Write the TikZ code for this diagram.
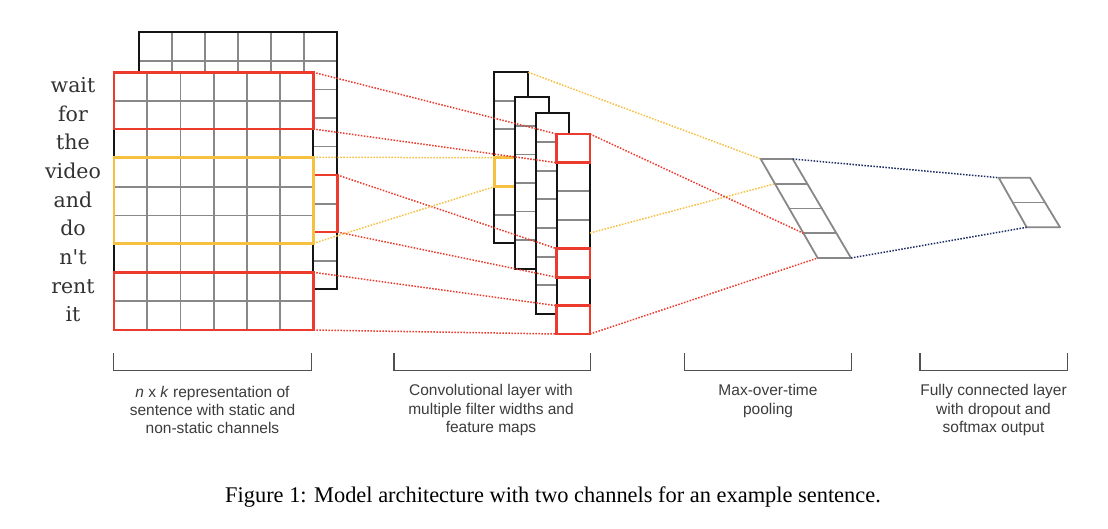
\documentclass[tikz,border=0pt]{standalone}
\usepackage{fontspec}
\setmainfont{Liberation Serif}
\newfontfamily\wordfont{DejaVu Serif}
\newfontfamily\labfont{Liberation Sans}
\definecolor{cred}{RGB}{236,58,44}
\definecolor{cyel}{RGB}{246,192,64}
\definecolor{cnavy}{RGB}{30,44,100}
\definecolor{cgrid}{RGB}{136,136,136}
\definecolor{cblk}{RGB}{20,20,20}
\definecolor{ctext}{RGB}{60,60,60}
\definecolor{cword}{RGB}{50,50,50}
\tikzset{
  gridln/.style={draw=cgrid, line width=1.8pt},
  blkln/.style={draw=cblk, line width=2pt},
  redbox/.style={draw=cred, line width=2.7pt},
  yelbox/.style={draw=cyel, line width=2.7pt},
  dotln/.style={line width=1.5pt, dash pattern=on 1.5pt off 1.5pt},
  reddot/.style={dotln, draw=cred},
  yeldot/.style={dotln, draw=cyel},
  navydot/.style={dotln, draw=cnavy},
  pool/.style={draw=cgrid, line width=1.8pt, line join=round},
  brk/.style={draw=ctext!90, line width=1.3pt},
  word/.style={font=\wordfont\fontsize{20.5}{24}\selectfont, text=cword, anchor=base, inner sep=0pt},
  lab/.style={font=\labfont\fontsize{15.5}{18.3}\selectfont, text=ctext, align=center, inner sep=0pt},
}
\begin{document}
\begin{tikzpicture}[x=1pt,y=-1pt]
\useasboundingbox (0,0) rectangle (1108,528);
\fill[white] (0,0) rectangle (1108,528);

% ---- back channel matrix
\begin{scope}[shift={(139,32.3)}]
  \fill[white] (0,0) rectangle (198.3,257);
  \foreach \i in {1,...,8} \draw[gridln] (0,{\i*28.56}) -- (198.3,{\i*28.56});
  \foreach \j in {1,...,5} \draw[gridln] ({\j*33.05},0) -- ({\j*33.05},257);
  \draw[blkln] (0,0) rectangle (198.3,257);
\end{scope}
\draw[redbox] (139,175) rectangle (337.3,232);

% ---- front channel matrix
\begin{scope}[shift={(114,72.3)}]
  \fill[white] (0,0) rectangle (199.3,257.7);
  \foreach \i in {1,...,8} \draw[gridln] (0,{\i*28.63}) -- (199.3,{\i*28.63});
  \foreach \j in {1,...,5} \draw[gridln] ({\j*33.22},0) -- ({\j*33.22},257.7);
  \draw[blkln] (0,0) rectangle (199.3,257.7);
\end{scope}
\draw[redbox] (114,72.3) rectangle (313.3,129);
\draw[yelbox] (114,157.3) rectangle (313.3,243.3);
\draw[redbox] (114,272.3) rectangle (313.3,330);

% ---- words
\foreach \w [count=\k] in {wait,for,the,video,and,do,n't,rent,it}
  \node[word] (w\k) at (73,{72.3+28.63*(\k-0.5)+6}) {\w};

% ---- feature maps
% map 1
\begin{scope}[shift={(494.3,72.3)}]
  \fill[white] (0,0) rectangle (34,171);
  \foreach \i in {1,...,5} \draw[gridln] (0,{\i*28.5}) -- (34,{\i*28.5});
  \draw[blkln] (0,0) rectangle (34,171);
\end{scope}
\draw[yelbox] (494.3,157.7) rectangle (528.3,186.7);
% map 2
\begin{scope}[shift={(515.3,97.3)}]
  \fill[white] (0,0) rectangle (33.4,171.4);
  \foreach \i in {1,...,5} \draw[gridln] (0,{\i*28.57}) -- (33.4,{\i*28.57});
  \draw[blkln] (0,0) rectangle (33.4,171.4);
\end{scope}
% map 3
\begin{scope}[shift={(536,113.3)}]
  \fill[white] (0,0) rectangle (33.3,200.7);
  \foreach \i in {1,...,6} \draw[gridln] (0,{\i*28.67}) -- (33.3,{\i*28.67});
  \draw[blkln] (0,0) rectangle (33.3,200.7);
\end{scope}
% map 4
\begin{scope}[shift={(556.7,134)}]
  \fill[white] (0,0) rectangle (33.3,200);
  \foreach \i in {1,...,6} \draw[gridln] (0,{\i*28.57}) -- (33.3,{\i*28.57});
  \draw[blkln] (0,0) rectangle (33.3,200);
\end{scope}
\draw[redbox] (556.7,134) rectangle (590,162.7);
\draw[redbox] (556.7,248.7) rectangle (590,277.3);
\draw[redbox] (556.7,305.7) rectangle (590,334);

% ---- pooling layer
\coordinate (p0l) at (760.7,159);   \coordinate (p0r) at (792.7,159);
\coordinate (p1l) at (774.9,183.7); \coordinate (p1r) at (806.9,183.7);
\coordinate (p2l) at (789.2,208.5); \coordinate (p2r) at (821.2,208.5);
\coordinate (p3l) at (803.5,233.3); \coordinate (p3r) at (836.7,233.3);
\coordinate (p4l) at (817.7,258);   \coordinate (p4r) at (851,258);
\draw[pool] (p0l) -- (p0r) -- (p4r) -- (p4l) -- cycle;
\draw[pool] (p1l) -- (p1r) (p2l) -- (p2r) (p3l) -- (p3r);

% ---- output layer
\coordinate (o0l) at (998.7,177.7); \coordinate (o0r) at (1030,177.7);
\coordinate (o1l) at (1012.7,202.5); \coordinate (o1r) at (1044.7,202.5);
\coordinate (o2l) at (1026.7,227.3); \coordinate (o2r) at (1060,227.3);
\draw[pool] (o0l) -- (o0r) -- (o2r) -- (o2l) -- cycle;
\draw[pool] (o1l) -- (o1r);

% ---- connector end points
\coordinate (a1) at (313.3,72.3);  \coordinate (b1) at (556.7,134);
\coordinate (a2) at (313.3,129);   \coordinate (b2) at (556.7,162.7);
\coordinate (a3) at (337.3,175);   \coordinate (b3) at (556.7,248.7);
\coordinate (a4) at (337.3,232);   \coordinate (b4) at (556.7,277.3);
\coordinate (a5) at (313.3,272.3); \coordinate (b5) at (556.7,305.7);
\coordinate (a6) at (313.3,330);   \coordinate (b6) at (556.7,334);
\coordinate (y1) at (313.3,157.3); \coordinate (z1) at (494.3,157.7);
\coordinate (y2) at (313.3,243.3); \coordinate (z2) at (494.3,186.7);
\coordinate (m1tr) at (528.3,72.3);
\coordinate (m4y) at (590,233);
\coordinate (m4tr) at (590,134);
\coordinate (m4br) at (590,334);

\draw[reddot] (a1) -- (b1);
\draw[reddot] (a2) -- (b2);
\draw[reddot] (a3) -- (b3);
\draw[reddot] (a4) -- (b4);
\draw[reddot] (a5) -- (b5);
\draw[reddot] (a6) -- (b6);
\draw[yeldot] (y1) -- (z1);
\draw[yeldot] (y2) -- (z2);
\draw[yeldot] (m1tr) -- (p0l);
\draw[yeldot] (m4y) -- (p1l);
\draw[reddot] (m4tr) -- (p3l);
\draw[reddot] (m4br) -- (p4l);
\draw[navydot] (p0r) -- (o0l);
\draw[navydot] (p4r) -- (o2l);

% ---- brackets
\draw[brk] (113.3,353.3) -- (113.3,370.7) -- (311.7,370.7) -- (311.7,353.3);
\draw[brk] (394,353.3) -- (394,370.7) -- (590.7,370.7) -- (590.7,353.3);
\draw[brk] (684.3,353.3) -- (684.3,370.7) -- (851.7,370.7) -- (851.7,353.3);
\draw[brk] (920,353.3) -- (920,370.7) -- (1067.3,370.7) -- (1067.3,353.3);

% ---- labels
\node[lab] (l1) at (212.5,410) {\textit{n} x \textit{k} representation of\\sentence with static and\\non-static channels};
\node[lab] (l2) at (491,410) {Convolutional layer with\\multiple filter widths and\\feature maps};
\node[lab] (l3) at (768,401) {Max-over-time\\pooling};
\node[lab] (l4) at (993.5,410) {Fully connected layer\\with dropout and\\softmax output};

% ---- caption
\node[font=\fontsize{22.4}{26}\selectfont, inner sep=0pt] (cap) at (553,497) {Figure 1: Model architecture with two channels for an example sentence.};
\end{tikzpicture}
\end{document}
